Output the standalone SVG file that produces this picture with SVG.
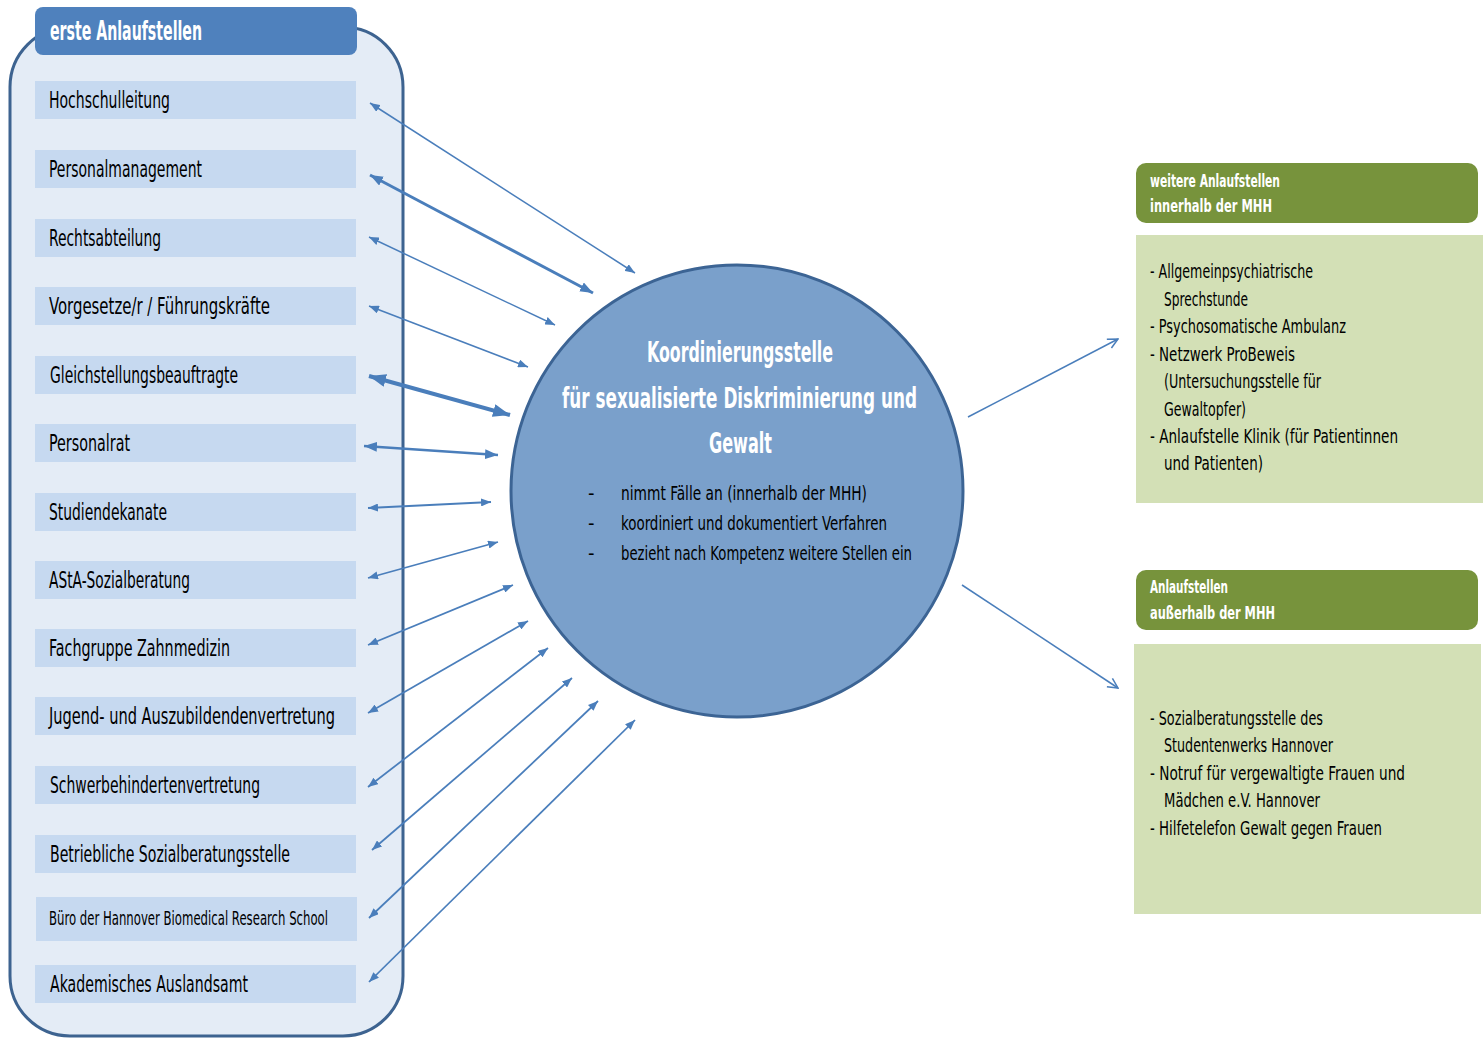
<svg xmlns="http://www.w3.org/2000/svg" width="1483" height="1039" viewBox="0 0 1483 1039">
<defs>
<style>
text{font-family:"Liberation Sans Narrow","DejaVu Sans Condensed","Liberation Sans",sans-serif;}
.item{fill:#c6d9f0;}
.it{font-size:23px;fill:#000;}
.hd{font-size:27px;font-weight:bold;fill:#fff;}
.ct{font-size:29px;font-weight:bold;fill:#fff;}
.cb{font-size:20px;fill:#000;}
.gh{font-size:18px;font-weight:bold;fill:#fff;}
.gt{font-size:20px;fill:#000;}
.con{stroke:#4a7ebb;fill:none;}
</style>
<marker id="hs" viewBox="0 0 10 8" refX="10" refY="4" markerWidth="10" markerHeight="8" markerUnits="userSpaceOnUse" orient="auto-start-reverse"><path d="M0,0 L10,4 L0,8 z" fill="#4a7ebb"/></marker>
<marker id="hm" viewBox="0 0 13 10" refX="13" refY="5" markerWidth="13" markerHeight="10" markerUnits="userSpaceOnUse" orient="auto-start-reverse"><path d="M0,0 L13,5 L0,10 z" fill="#4a7ebb"/></marker>
<marker id="hl" viewBox="0 0 17 13" refX="17" refY="6.5" markerWidth="17" markerHeight="13" markerUnits="userSpaceOnUse" orient="auto-start-reverse"><path d="M0,0 L17,6.5 L0,13 z" fill="#4a7ebb"/></marker>
<marker id="ho" viewBox="0 0 12 12" refX="11" refY="6" markerWidth="12" markerHeight="12" markerUnits="userSpaceOnUse" orient="auto"><path d="M1,1 L11,6 L1,11" fill="none" stroke="#4a7ebb" stroke-width="1.5"/></marker>
</defs>
<rect width="1483" height="1039" fill="#fff"/>

<g id="container-left">
<rect x="10" y="27" width="393" height="1009" rx="60" fill="#e4ecf6" stroke="#3d6390" stroke-width="3"/>
<rect x="35" y="7" width="322" height="48" rx="8" fill="#4f81bd"/>
<text class="hd" x="50" y="40" textLength="152" lengthAdjust="spacingAndGlyphs">erste Anlaufstellen</text>
</g>

<g id="n-hochschulleitung"><rect class="item" x="35" y="81" width="321" height="38"/><text class="it" x="49" y="108" textLength="121" lengthAdjust="spacingAndGlyphs">Hochschulleitung</text></g>
<g id="n-personalmanagement"><rect class="item" x="35" y="150" width="321" height="38"/><text class="it" x="49" y="177" textLength="153" lengthAdjust="spacingAndGlyphs">Personalmanagement</text></g>
<g id="n-rechtsabteilung"><rect class="item" x="35" y="219" width="321" height="38"/><text class="it" x="49" y="246" textLength="112" lengthAdjust="spacingAndGlyphs">Rechtsabteilung</text></g>
<g id="n-vorgesetze"><rect class="item" x="35" y="287" width="321" height="38"/><text class="it" x="49" y="314" textLength="221" lengthAdjust="spacingAndGlyphs">Vorgesetze/r / Führungskräfte</text></g>
<g id="n-gleichstellung"><rect class="item" x="35" y="356" width="321" height="38"/><text class="it" x="50" y="383" textLength="188" lengthAdjust="spacingAndGlyphs">Gleichstellungsbeauftragte</text></g>
<g id="n-personalrat"><rect class="item" x="35" y="424" width="321" height="38"/><text class="it" x="49" y="451" textLength="81" lengthAdjust="spacingAndGlyphs">Personalrat</text></g>
<g id="n-studiendekanate"><rect class="item" x="35" y="493" width="321" height="38"/><text class="it" x="49" y="520" textLength="118" lengthAdjust="spacingAndGlyphs">Studiendekanate</text></g>
<g id="n-asta"><rect class="item" x="35" y="561" width="321" height="38"/><text class="it" x="49" y="588" textLength="141" lengthAdjust="spacingAndGlyphs">AStA-Sozialberatung</text></g>
<g id="n-fachgruppe"><rect class="item" x="35" y="629" width="321" height="38"/><text class="it" x="49" y="656" textLength="181" lengthAdjust="spacingAndGlyphs">Fachgruppe Zahnmedizin</text></g>
<g id="n-jugend"><rect class="item" x="35" y="697" width="321" height="38"/><text class="it" x="49" y="724" textLength="286" lengthAdjust="spacingAndGlyphs">Jugend- und Auszubildendenvertretung</text></g>
<g id="n-schwerbehinderten"><rect class="item" x="35" y="766" width="321" height="38"/><text class="it" x="50" y="793" textLength="210" lengthAdjust="spacingAndGlyphs">Schwerbehindertenvertretung</text></g>
<g id="n-betriebliche"><rect class="item" x="35" y="835" width="321" height="38"/><text class="it" x="50" y="862" textLength="240" lengthAdjust="spacingAndGlyphs">Betriebliche Sozialberatungsstelle</text></g>
<g id="n-buero"><rect class="item" x="36" y="897" width="321" height="44"/><text class="it" x="49" y="925" style="font-size:19px" textLength="279" lengthAdjust="spacingAndGlyphs">Büro der Hannover Biomedical Research School</text></g>
<g id="n-akademisches"><rect class="item" x="35" y="965" width="321" height="38"/><text class="it" x="50" y="992" textLength="198" lengthAdjust="spacingAndGlyphs">Akademisches Auslandsamt</text></g>

<g id="n-koordinierungsstelle">
<circle cx="737" cy="491" r="226" fill="#7aa0cb" stroke="#3c6494" stroke-width="3"/>
<text class="ct" x="647" y="362" textLength="186" lengthAdjust="spacingAndGlyphs">Koordinierungsstelle</text>
<text class="ct" x="562" y="408" textLength="355" lengthAdjust="spacingAndGlyphs">für sexualisierte Diskriminierung und</text>
<text class="ct" x="709" y="453" textLength="63" lengthAdjust="spacingAndGlyphs">Gewalt</text>
<text class="cb" x="588" y="500">-</text>
<text class="cb" x="621" y="500" textLength="246" lengthAdjust="spacingAndGlyphs">nimmt Fälle an (innerhalb der MHH)</text>
<text class="cb" x="588" y="530">-</text>
<text class="cb" x="621" y="530" textLength="266" lengthAdjust="spacingAndGlyphs">koordiniert und dokumentiert Verfahren</text>
<text class="cb" x="588" y="560">-</text>
<text class="cb" x="621" y="560" textLength="291" lengthAdjust="spacingAndGlyphs">bezieht nach Kompetenz weitere Stellen ein</text>
</g>

<g id="n-innerhalb">
<rect x="1136" y="163" width="342" height="60" rx="10" fill="#77933c"/>
<text class="gh" x="1150" y="187" textLength="130" lengthAdjust="spacingAndGlyphs">weitere Anlaufstellen</text>
<text class="gh" x="1150" y="212" textLength="122" lengthAdjust="spacingAndGlyphs">innerhalb der MHH</text>
<rect x="1136" y="235" width="347" height="268" fill="#d3e0b6"/>
<text class="gt" x="1150" y="278" textLength="163" lengthAdjust="spacingAndGlyphs">- Allgemeinpsychiatrische</text>
<text class="gt" x="1164" y="306" textLength="84" lengthAdjust="spacingAndGlyphs">Sprechstunde</text>
<text class="gt" x="1150" y="333" textLength="196" lengthAdjust="spacingAndGlyphs">- Psychosomatische Ambulanz</text>
<text class="gt" x="1150" y="361" textLength="145" lengthAdjust="spacingAndGlyphs">- Netzwerk ProBeweis</text>
<text class="gt" x="1164" y="388" textLength="157" lengthAdjust="spacingAndGlyphs">(Untersuchungsstelle für</text>
<text class="gt" x="1164" y="416" textLength="82" lengthAdjust="spacingAndGlyphs">Gewaltopfer)</text>
<text class="gt" x="1150" y="443" textLength="248" lengthAdjust="spacingAndGlyphs">- Anlaufstelle Klinik (für Patientinnen</text>
<text class="gt" x="1164" y="470" textLength="99" lengthAdjust="spacingAndGlyphs">und Patienten)</text>
</g>

<g id="n-ausserhalb">
<rect x="1136" y="570" width="342" height="60" rx="10" fill="#77933c"/>
<text class="gh" x="1150" y="593" textLength="78" lengthAdjust="spacingAndGlyphs">Anlaufstellen</text>
<text class="gh" x="1150" y="619" textLength="125" lengthAdjust="spacingAndGlyphs">außerhalb der MHH</text>
<rect x="1134" y="644" width="347" height="270" fill="#d3e0b6"/>
<text class="gt" x="1150" y="725" textLength="173" lengthAdjust="spacingAndGlyphs">- Sozialberatungsstelle des</text>
<text class="gt" x="1164" y="752" textLength="169" lengthAdjust="spacingAndGlyphs">Studentenwerks Hannover</text>
<text class="gt" x="1150" y="780" textLength="255" lengthAdjust="spacingAndGlyphs">- Notruf für vergewaltigte Frauen und</text>
<text class="gt" x="1164" y="807" textLength="156" lengthAdjust="spacingAndGlyphs">Mädchen e.V. Hannover</text>
<text class="gt" x="1150" y="835" textLength="232" lengthAdjust="spacingAndGlyphs">- Hilfetelefon Gewalt gegen Frauen</text>
</g>

<g id="connectors">
<line class="con" x1="370" y1="103" x2="635" y2="273" stroke-width="1.5" marker-start="url(#hs)" marker-end="url(#hs)"/>
<line class="con" x1="370" y1="175" x2="593" y2="293" stroke-width="3" marker-start="url(#hm)" marker-end="url(#hm)"/>
<line class="con" x1="369" y1="237" x2="555" y2="325" stroke-width="1.5" marker-start="url(#hs)" marker-end="url(#hs)"/>
<line class="con" x1="369" y1="306" x2="528" y2="367" stroke-width="1.5" marker-start="url(#hs)" marker-end="url(#hs)"/>
<line class="con" x1="369" y1="376" x2="510" y2="415" stroke-width="4" marker-start="url(#hl)" marker-end="url(#hl)"/>
<line class="con" x1="364" y1="446" x2="498" y2="455" stroke-width="2.5" marker-start="url(#hm)" marker-end="url(#hm)"/>
<line class="con" x1="368" y1="508" x2="491" y2="502" stroke-width="2" marker-start="url(#hs)" marker-end="url(#hs)"/>
<line class="con" x1="368" y1="578" x2="498" y2="542" stroke-width="1.75" marker-start="url(#hs)" marker-end="url(#hs)"/>
<line class="con" x1="368" y1="645" x2="513" y2="585" stroke-width="1.75" marker-start="url(#hs)" marker-end="url(#hs)"/>
<line class="con" x1="368" y1="713" x2="528" y2="621" stroke-width="1.75" marker-start="url(#hs)" marker-end="url(#hs)"/>
<line class="con" x1="368" y1="787" x2="548" y2="648" stroke-width="1.75" marker-start="url(#hs)" marker-end="url(#hs)"/>
<line class="con" x1="372" y1="850" x2="572" y2="678" stroke-width="1.75" marker-start="url(#hs)" marker-end="url(#hs)"/>
<line class="con" x1="369" y1="918" x2="598" y2="701" stroke-width="1.75" marker-start="url(#hs)" marker-end="url(#hs)"/>
<line class="con" x1="369" y1="982" x2="635" y2="720" stroke-width="1.75" marker-start="url(#hs)" marker-end="url(#hs)"/>
<line class="con" x1="968" y1="417" x2="1118" y2="339" stroke-width="1.5" marker-end="url(#ho)"/>
<line class="con" x1="962" y1="585" x2="1118" y2="688" stroke-width="1.5" marker-end="url(#ho)"/>
</g>
</svg>
